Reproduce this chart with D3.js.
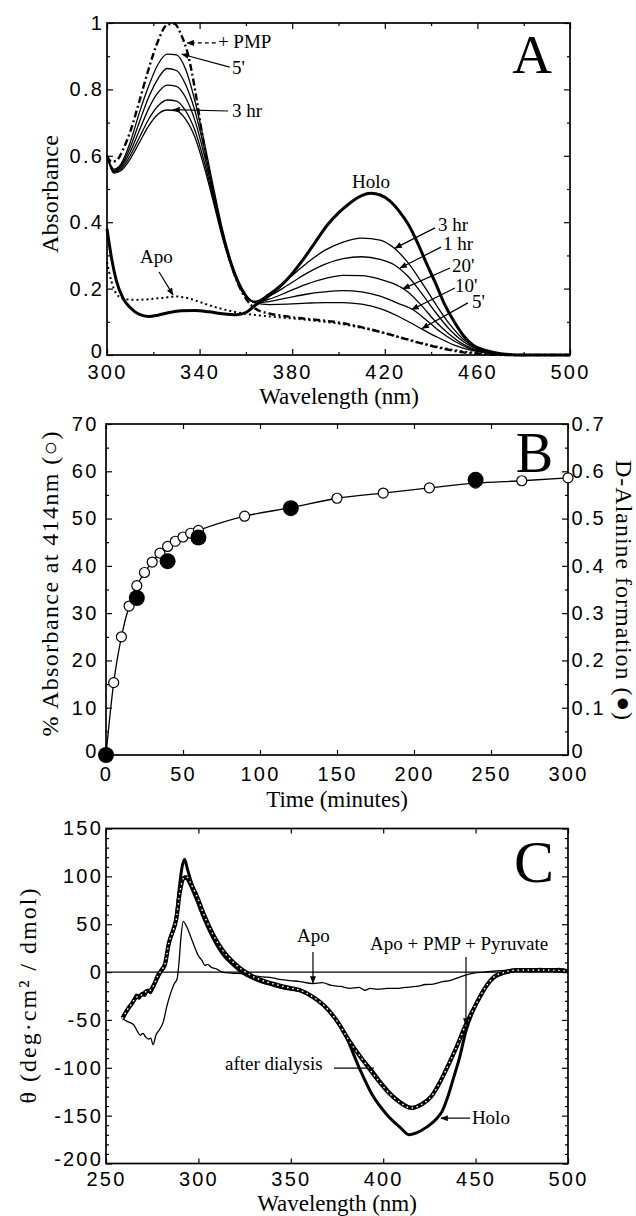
<!DOCTYPE html>
<html>
<head>
<meta charset="utf-8">
<script src="https://cdn.jsdelivr.net/npm/d3@7"></script>
<style>
  body { margin: 0; background: #fff; }
</style>
</head>
<body>
<svg id="fig" width="636" height="1216"></svg>
<script>
// ---------- Panel A: absorbance spectra [wavelength nm, absorbance] ----------
const holoA = [[300,0.38],[302,0.29],[304,0.225],[307,0.17],[310,0.143],[314,0.122],[318,0.116],[322,0.12],[327,0.128],[332,0.133],[338,0.134],[344,0.13],[350,0.124],[356,0.121],[360,0.128],[364,0.15],[368,0.168],[372,0.19],[376,0.215],[380,0.245],[385,0.29],[390,0.34],[395,0.39],[400,0.428],[405,0.458],[410,0.48],[414,0.487],[418,0.482],[422,0.465],[426,0.435],[430,0.395],[434,0.34],[438,0.276],[442,0.215],[446,0.15],[450,0.1],[454,0.058],[458,0.03],[464,0.013],[470,0.004],[480,0],[500,0]];
const pmpA = [[300,0.6],[302,0.582],[304,0.585],[307,0.62],[310,0.672],[314,0.765],[318,0.862],[322,0.945],[326,0.995],[329,0.998],[332,0.965],[335,0.905],[338,0.8],[341,0.67],[344,0.55],[348,0.42],[352,0.31],[356,0.225],[360,0.17],[364,0.14],[370,0.125],[376,0.118],[382,0.112],[390,0.106],[398,0.1],[406,0.09],[414,0.077],[422,0.062],[430,0.046],[438,0.031],[446,0.018],[454,0.008],[462,0.003],[472,0],[500,0]];
const apoA = [[300,0.28],[302,0.22],[304,0.185],[307,0.17],[312,0.166],[318,0.168],[324,0.172],[330,0.176],[335,0.171],[340,0.16],[345,0.148],[350,0.138],[355,0.13],[360,0.124],[366,0.119],[372,0.115],[380,0.11],[390,0.103],[400,0.095],[410,0.082],[420,0.066],[430,0.047],[440,0.029],[450,0.015],[460,0.006],[470,0.001],[485,0],[500,0]];
const min5A = [[300,0.6],[303,0.56],[306,0.575],[310,0.64],[314,0.73],[318,0.81],[322,0.875],[326,0.906],[330,0.904],[334,0.86],[338,0.765],[342,0.642],[346,0.505],[350,0.375],[355,0.255],[360,0.182],[364,0.157],[370,0.152],[378,0.153],[386,0.156],[394,0.158],[402,0.158],[410,0.153],[418,0.14],[426,0.116],[434,0.086],[442,0.056],[450,0.03],[458,0.013],[466,0.004],[476,0],[500,0]];
const min10A = [[300,0.6],[303,0.556],[306,0.57],[310,0.625],[314,0.702],[318,0.776],[322,0.832],[326,0.863],[330,0.857],[334,0.814],[338,0.735],[342,0.622],[346,0.492],[350,0.368],[355,0.25],[360,0.18],[364,0.158],[370,0.161],[378,0.172],[386,0.183],[394,0.19],[402,0.194],[410,0.19],[418,0.177],[426,0.155],[432,0.137],[438,0.105],[444,0.07],[450,0.042],[456,0.021],[462,0.009],[470,0.002],[480,0],[500,0]];
const min20A = [[300,0.6],[303,0.553],[306,0.565],[310,0.612],[314,0.677],[318,0.742],[322,0.79],[326,0.813],[330,0.809],[334,0.775],[338,0.706],[342,0.602],[346,0.481],[350,0.362],[355,0.247],[360,0.178],[364,0.159],[370,0.168],[378,0.19],[386,0.213],[394,0.23],[402,0.24],[410,0.239],[418,0.228],[424,0.214],[430,0.19],[436,0.148],[442,0.1],[448,0.062],[454,0.032],[460,0.014],[468,0.003],[478,0],[500,0]];
const hr1A = [[300,0.6],[303,0.55],[306,0.56],[310,0.6],[314,0.655],[318,0.71],[322,0.75],[326,0.768],[330,0.765],[334,0.735],[338,0.676],[342,0.582],[346,0.47],[350,0.356],[355,0.244],[360,0.176],[364,0.16],[370,0.177],[378,0.21],[386,0.245],[394,0.273],[402,0.29],[410,0.296],[418,0.288],[424,0.272],[430,0.237],[436,0.185],[442,0.128],[448,0.077],[454,0.04],[460,0.017],[468,0.004],[478,0],[500,0]];
const hr3A = [[300,0.6],[303,0.548],[306,0.555],[310,0.59],[314,0.64],[318,0.69],[322,0.725],[326,0.738],[330,0.735],[334,0.71],[338,0.656],[342,0.566],[346,0.46],[350,0.35],[355,0.24],[360,0.175],[364,0.162],[370,0.185],[378,0.228],[386,0.275],[394,0.315],[402,0.34],[410,0.352],[418,0.346],[424,0.322],[430,0.278],[436,0.218],[442,0.153],[448,0.093],[454,0.047],[460,0.019],[468,0.004],[478,0],[500,0]];

// ---------- Panel B: time course ----------
const timeMin = [0,5,10,15,20,25,30,35,40,45,50,55,60,90,120,150,180,210,240,270,300];
const pctAbs414 = [0,15.3,25,31.5,35.8,38.6,40.8,42.7,44.1,45.2,46.1,46.9,47.5,50.5,52.3,54.3,55.4,56.5,57.5,58.0,58.6];
const alanineTime = [0,20,40,60,120,240];
const alanineForm = [0,0.332,0.41,0.46,0.522,0.582];

// ---------- Panel C: CD spectra [wavelength nm, theta] ----------
const holoC = [[259,-49],[261,-42],[263,-36],[265,-30],[266.5,-24],[268,-27],[269.5,-22],[271,-24],[272.5,-19],[274,-21],[276,-14],[278,-6],[280,1],[282,8],[283.5,25],[285,38],[286.5,44],[288,58],[289.5,85],[291,108],[292.5,118],[294,108],[296,95],[299,77],[303,56],[308,35],[313,19],[319,7],[324,-1],[331,-8],[340,-13],[348,-17],[355,-19],[360,-24],[366,-32],[373,-46],[380,-68],[387,-100],[394,-128],[402,-149],[409,-162],[414,-170],[418,-168],[423.5,-162],[429,-153],[432,-145],[435,-130],[438,-111],[441.5,-88],[445,-60],[448,-44],[451,-30],[456,-14],[460,-6],[464,-2],[468,0],[474,2],[480,1],[485,3],[490,2],[495,3],[500,1]];
const dialysisC = [[259,-49],[261,-41],[263,-35],[265,-31],[266.5,-25],[268,-28],[269.5,-23],[271,-25],[272.5,-20],[274,-22],[276,-15],[278,-7],[280,0],[282,6],[283.5,22],[285,35],[286.5,42],[288,52],[289.5,75],[291,94],[292.5,100],[294,96],[296,88],[299,74],[303,55],[308,36],[313,20],[319,8],[324,0],[331,-8],[340,-14],[348,-18],[355,-20],[360,-24],[366,-31],[373,-45],[380,-66],[387,-86],[394,-102],[400,-117],[405,-128],[410,-136],[416,-141],[421,-137],[425,-131],[430.5,-115],[436,-94],[440,-76],[444,-58],[448,-42],[452,-27],[456,-14],[460,-6],[465,-1],[470,1],[476,2],[482,2],[488,3],[494,2],[500,1]];
const pyruvateC = [[259,-48],[262,-38],[264,-33],[266,-27],[268,-25],[270,-23],[272,-20],[274,-19],[276,-13],[278,-4],[280,2],[282,9],[284,30],[286,42],[288,55],[290,84],[292,98],[294,99],[296,92],[299,80],[303,60],[308,39],[313,23],[319,10],[324,2],[331,-6],[340,-12],[348,-16],[355,-19],[362,-26],[368,-35],[375,-51],[382,-73],[389,-92],[396,-110],[403,-126],[409,-136],[415,-142],[421,-138],[426,-130],[431,-114],[436,-94],[440,-77],[444,-58],[448,-42],[452,-27],[456,-14],[460,-5],[466,0],[472,2],[480,2],[490,2],[500,1]];
const apoC = [[259,-49],[262,-52],[265,-55],[267,-62],[268.5,-66],[270,-64],[271.5,-68],[273,-70],[274.2,-69],[275.5,-76],[277,-66],[279,-60],[281,-52],[283,-35],[285,-22],[287,-12],[288.5,-7],[289.5,10],[290.5,35],[291.8,53],[293,50],[294,46],[296,36],[298,26],[300,17],[302,12],[303.5,7],[305,8],[307,5],[310,3],[313,0],[318,-1],[325,-2],[330,-4],[335,-5],[340,-6],[345,-8],[350,-9],[355,-10],[362,-12],[367,-11],[372,-14],[377,-15],[382,-17],[387,-16],[390,-19],[393,-17],[397,-18],[402,-17],[407,-17],[412,-16],[418,-15],[423,-13],[427,-12.5],[432,-10],[436,-9],[441,-5.5],[445,-3],[449,-1],[455,0],[463,1.5],[470,2],[476,1],[480,3],[486,2],[490,3],[496,1],[500,1]];

// ---------- tick values ----------
const absTicks = [0,0.2,0.4,0.6,0.8,1];
const absMinor = [0.1,0.3,0.5,0.7,0.9];
const wlTicksA = [300,340,380,420,460,500];
const wlMinorA = [320,360,400,440,480];
const pctTicks = [0,10,20,30,40,50,60,70];
const pctMinor = [5,15,25,35,45,55,65];
const alaTicks = [0,0.1,0.2,0.3,0.4,0.5,0.6,0.7];
const timeTicks = [0,50,100,150,200,250,300];
const cdTicks = [-200,-150,-100,-50,0,50,100,150];
const cdMinor = d3.range(-190,150,10).filter(v => v % 50 !== 0);
const wlTicksC = [250,300,350,400,450,500];

const sans = "'Liberation Sans', Arial, Helvetica, sans-serif";
const serif = "'Liberation Serif', 'Times New Roman', Times, serif";

const svg = d3.select('#fig');

svg.append('defs').append('marker')
	.attr('id', 'head')
	.attr('viewBox', '0 0 10 8')
	.attr('refX', 9)
	.attr('refY', 4)
	.attr('markerWidth', 8)
	.attr('markerHeight', 6)
	.attr('markerUnits', 'userSpaceOnUse')
	.attr('orient', 'auto')
	.append('path')
	.attr('d', 'M0,0L10,4L0,8Z')
	.attr('fill', '#000');

function makePanel(left, top, width, height, xDom, yDom) {
	let g = svg.append('g').attr('transform', 'translate(' + left + ',' + top + ')');
	let x = d3.scaleLinear().domain(xDom).range([0, width]);
	let y = d3.scaleLinear().domain(yDom).range([height, 0]);
	return { g: g, x: x, y: y, width: width, height: height };
}

function ticks(p, side, scale, values, size, labels, pad) {
	let gen = { bottom: d3.axisBottom, top: d3.axisTop, left: d3.axisLeft, right: d3.axisRight }[side];
	let axis = gen(scale)
		.tickValues(values)
		.tickSizeInner(-size)
		.tickSizeOuter(0)
		.tickPadding(pad || 0)
		.tickFormat(labels ? (d) => String(d) : () => '');
	let ax = p.g.append('g');
	if (side === 'bottom') ax.attr('transform', 'translate(0,' + p.height + ')');
	if (side === 'right') ax.attr('transform', 'translate(' + p.width + ',0)');
	ax.call(axis);
	ax.select('.domain').remove();
	ax.selectAll('line').attr('stroke', '#000').attr('stroke-width', 1.2);
	ax
		.selectAll('text')
		.attr('font-family', sans)
		.attr('font-size', 20)
		.attr('letter-spacing', 2.2)
		.attr('fill', '#000');
	// the lowest label of a vertical axis sits a little above the corner
	if (side === 'left' || side === 'right') {
		let lo = d3.min(values);
		ax.selectAll('.tick').filter((d) => d === lo).select('text').attr('dy', '0.1em');
	}
	return ax;
}

function frame(p) {
	p.g
		.append('rect')
		.attr('width', p.width)
		.attr('height', p.height)
		.attr('fill', 'none')
		.attr('stroke', '#000')
		.attr('stroke-width', 1.7);
}

function curve(p, data, width, dash) {
	let line = d3
		.line()
		.curve(d3.curveMonotoneX)
		.x((d) => p.x(d[0]))
		.y((d) => p.y(d[1]));
	return p.g
		.append('path')
		.datum(data)
		.attr('fill', 'none')
		.attr('stroke', '#000')
		.attr('stroke-width', width)
		.attr('stroke-linejoin', 'round')
		.attr('stroke-dasharray', dash || null)
		.attr('d', line);
}

function note(p, text, x, y, size) {
	p.g
		.append('text')
		.attr('x', p.x(x))
		.attr('y', p.y(y))
		.attr('font-family', serif)
		.attr('font-size', size || 19)
		.attr('fill', '#000')
		.text(text);
}

function leader(p, l) {
	p.g
		.append('line')
		.attr('x1', p.x(l.x1))
		.attr('y1', p.y(l.y1))
		.attr('x2', p.x(l.x2))
		.attr('y2', p.y(l.y2))
		.attr('stroke', '#000')
		.attr('stroke-width', 1.2)
		.attr('stroke-dasharray', l.dash ? '4,3' : null)
		.attr('marker-end', l.head ? 'url(#head)' : null);
}

function title(text, x, y, rotate, size, length) {
	let t = svg
		.append('text')
		.attr('transform', 'translate(' + x + ',' + y + ')' + (rotate ? ' rotate(' + rotate + ')' : ''))
		.attr('text-anchor', 'middle')
		.attr('font-family', serif)
		.attr('font-size', size)
		.attr('fill', '#000')
		.text(text);
	if (length) t.attr('textLength', length).attr('lengthAdjust', 'spacing');
}

function letter(p, text, x, y, size) {
	p.g
		.append('text')
		.attr('x', x)
		.attr('y', y)
		.attr('text-anchor', 'end')
		.attr('font-family', serif)
		.attr('font-size', size)
		.attr('fill', '#000')
		.text(text);
}

// ================= Panel A =================
let pa = makePanel(107, 23, 463, 332, [300, 500], [0, 1]);
ticks(pa, 'bottom', pa.x, wlTicksA, 6, true, 9.3);
ticks(pa, 'bottom', pa.x, wlMinorA, 3, false);
ticks(pa, 'top', pa.x, wlTicksA, 6, false);
ticks(pa, 'top', pa.x, wlMinorA, 3, false);
ticks(pa, 'left', pa.y, absTicks, 6, true, 3);
ticks(pa, 'left', pa.y, absMinor, 3, false);
ticks(pa, 'right', pa.y, absTicks, 6, false);
ticks(pa, 'right', pa.y, absMinor, 3, false);

curve(pa, apoA, 2, '2,3');
curve(pa, pmpA, 2.4, '7,3,2,3');
[min5A, min10A, min20A, hr1A, hr3A].forEach((s) => curve(pa, s, 1.3));
curve(pa, holoA, 3);
frame(pa);

const notesA = [
	{ t: '+ PMP', x: 347.9, y: 0.925 },
	{ t: "5'", x: 354, y: 0.846 },
	{ t: '3 hr', x: 354, y: 0.717 },
	{ t: 'Apo', x: 314.3, y: 0.277 },
	{ t: 'Holo', x: 405.8, y: 0.503 },
	{ t: '3 hr', x: 443, y: 0.373 },
	{ t: '1 hr', x: 445.1, y: 0.316 },
	{ t: "20'", x: 449, y: 0.25 },
	{ t: "10'", x: 450.3, y: 0.19 },
	{ t: "5'", x: 457.7, y: 0.142 }
];
const leadersA = [
	{ x1: 347, y1: 0.94, x2: 334.6, y2: 0.94, head: true, dash: true },
	{ x1: 353, y1: 0.867, x2: 332.4, y2: 0.906, head: true },
	{ x1: 352.3, y1: 0.735, x2: 328.5, y2: 0.739, head: true },
	{ x1: 322.5, y1: 0.25, x2: 328.5, y2: 0.181, head: true },
	{ x1: 441.7, y1: 0.383, x2: 424.4, y2: 0.322, head: true },
	{ x1: 444.3, y1: 0.325, x2: 426.6, y2: 0.262, head: true },
	{ x1: 448.2, y1: 0.262, x2: 427.9, y2: 0.2, head: true },
	{ x1: 450.3, y1: 0.202, x2: 431.7, y2: 0.137, head: true },
	{ x1: 455.9, y1: 0.157, x2: 436.1, y2: 0.08, head: true }
];
notesA.forEach((n) => note(pa, n.t, n.x, n.y));
leadersA.forEach((l) => leader(pa, l));
letter(pa, 'A', 445, 50, 55);

title('Wavelength (nm)', 339, 404, 0, 23);
title('Absorbance', 58, 194, -90, 24, 118);

// ================= Panel B =================
let pb = makePanel(106, 424, 462, 331, [0, 300], [0, 70]);
let yAla = d3.scaleLinear().domain([0, 0.7]).range([pb.height, 0]);
ticks(pb, 'bottom', pb.x, timeTicks, 5, true, 11.5);
ticks(pb, 'top', pb.x, timeTicks, 5, false);
ticks(pb, 'left', pb.y, pctTicks, 6, true, 7.5);
ticks(pb, 'left', pb.y, pctMinor, 3, false);
ticks(pb, 'right', yAla, alaTicks, 6, true, 3.5);
ticks(pb, 'right', pb.y, pctMinor, 3, false);
frame(pb);

const openPts = timeMin.map((t, i) => [t, pctAbs414[i]]);
curve(pb, openPts, 1.3);
pb.g
	.selectAll('circle.open')
	.data(openPts)
	.join('circle')
	.attr('class', 'open')
	.attr('cx', (d) => pb.x(d[0]))
	.attr('cy', (d) => pb.y(d[1]))
	.attr('r', 5)
	.attr('fill', '#fff')
	.attr('stroke', '#000')
	.attr('stroke-width', 1.2);
pb.g
	.selectAll('circle.filled')
	.data(alanineTime)
	.join('circle')
	.attr('class', 'filled')
	.attr('cx', (d) => pb.x(d))
	.attr('cy', (d, i) => yAla(alanineForm[i]))
	.attr('r', 8)
	.attr('fill', '#000');
letter(pb, 'B', 447, 48, 56);

title('Time (minutes)', 337, 807, 0, 23);
title('% Absorbance at 414nm (\u25CB)', 58, 584, -90, 24, 305);
title('D-Alanine formation (\u25CF)', 616, 590, 90, 24, 260);

// ================= Panel C =================
let pc = makePanel(106, 828.5, 462, 335, [250, 500], [-200, 150]);
ticks(pc, 'bottom', pc.x, wlTicksC, 5, true, 8);
ticks(pc, 'top', pc.x, wlTicksC, 5, false);
ticks(pc, 'left', pc.y, cdTicks, 6, true, 3);
ticks(pc, 'left', pc.y, cdMinor, 3, false);
ticks(pc, 'right', pc.y, cdTicks, 6, false);
ticks(pc, 'right', pc.y, cdMinor, 3, false);

pc.g
	.append('line')
	.attr('x1', 0)
	.attr('x2', pc.width)
	.attr('y1', pc.y(0))
	.attr('y2', pc.y(0))
	.attr('stroke', '#000')
	.attr('stroke-width', 1.2);

curve(pc, apoC, 1.3);
curve(pc, pyruvateC, 4.2);
curve(pc, holoC, 3);
curve(pc, dialysisC, 2);
curve(pc, pyruvateC, 1.6, '0.1,5').attr('stroke', '#fff').attr('stroke-linecap', 'round');
frame(pc);

const notesC = [
	{ t: 'Apo', x: 353.4, y: 31.3 },
	{ t: 'Apo + PMP + Pyruvate', x: 392.9, y: 23 },
	{ t: 'after dialysis', x: 314.4, y: -102.4 },
	{ t: 'Holo', x: 448, y: -158.8 }
];
const leadersC = [
	{ x1: 362, y1: 20.9, x2: 362, y2: -11.5, head: true },
	{ x1: 444.8, y1: 15.7, x2: 444.8, y2: -55.4, head: true },
	{ x1: 373.4, y1: -100.3, x2: 395, y2: -100.3, head: false },
	{ x1: 447, y1: -152.6, x2: 431.3, y2: -152.6, head: true }
];
notesC.forEach((n) => note(pc, n.t, n.x, n.y));
leadersC.forEach((l) => leader(pc, l));
letter(pc, 'C', 448, 53.5, 60);

title('Wavelength (nm)', 337, 1211, 0, 23);
title('\u03B8 (deg\u00B7cm\u00B2 / dmol)', 36, 996, -90, 24, 215);
</script>
</body>
</html>
